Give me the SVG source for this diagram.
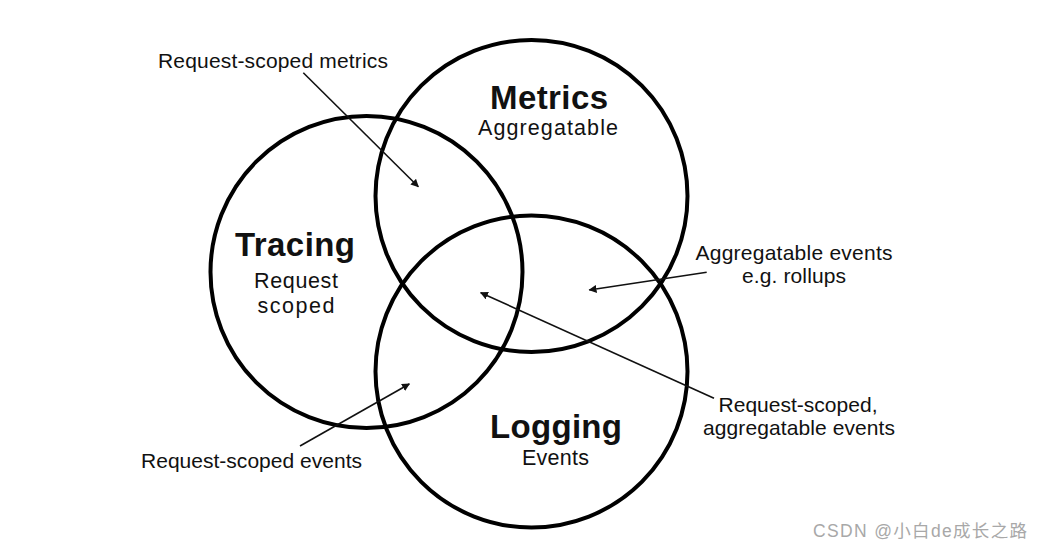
<svg xmlns="http://www.w3.org/2000/svg" width="1042" height="548" viewBox="0 0 1042 548">
<defs>
<style>
.c{fill:none;stroke:#000;stroke-width:4}
.t{font-family:"Liberation Sans",Arial,sans-serif;fill:#111}
.h{font-size:33px;font-weight:bold;text-anchor:middle}
.s{font-size:21.5px;text-anchor:middle}
.l{font-size:21px}
.a{stroke:#111;stroke-width:1.6;fill:none;marker-end:url(#ah)}
.w{font-family:"Liberation Sans",Arial,"Noto Sans CJK SC",sans-serif;font-size:17.5px;fill:#a8a8a8}
</style>
<marker id="ah" viewBox="0 0 10 10" refX="9" refY="5" markerWidth="8" markerHeight="8" markerUnits="userSpaceOnUse" orient="auto">
<path d="M0,0 L10,5 L0,10 z" fill="#111"/>
</marker>
</defs>
<rect width="1042" height="548" fill="#fff"/>
<g id="tracing">
<circle class="c" cx="366.5" cy="272" r="156"/>
<text class="t h" x="295" y="256" textLength="120" lengthAdjust="spacing">Tracing</text>
<text class="t s" x="296" y="288" textLength="84" lengthAdjust="spacing">Request</text>
<text class="t s" x="296" y="313" textLength="77" lengthAdjust="spacing">scoped</text>
</g>
<g id="metrics">
<circle class="c" cx="531.5" cy="196" r="156"/>
<text class="t h" x="549" y="109" textLength="118" lengthAdjust="spacing">Metrics</text>
<text class="t s" x="548" y="135" textLength="140" lengthAdjust="spacing">Aggregatable</text>
</g>
<g id="logging">
<circle class="c" cx="531.5" cy="371.5" r="156"/>
<text class="t h" x="556" y="438" textLength="132" lengthAdjust="spacing">Logging</text>
<text class="t s" x="555.5" y="465" textLength="67" lengthAdjust="spacing">Events</text>
</g>
<g id="labels">
<text class="t l" x="158" y="67.5" textLength="230" lengthAdjust="spacing">Request-scoped metrics</text>
<text class="t l" x="794" y="260" text-anchor="middle" textLength="197" lengthAdjust="spacing">Aggregatable events</text>
<text class="t l" x="794" y="283" text-anchor="middle" textLength="104" lengthAdjust="spacing">e.g. rollups</text>
<text class="t l" x="798" y="412" text-anchor="middle" textLength="159" lengthAdjust="spacing">Request-scoped,</text>
<text class="t l" x="799" y="435" text-anchor="middle" textLength="192" lengthAdjust="spacing">aggregatable events</text>
<text class="t l" x="141" y="468" textLength="221" lengthAdjust="spacing">Request-scoped events</text>
</g>
<g id="connectors">
<line class="a" x1="303.3" y1="72.7" x2="418.3" y2="186.7"/>
<line class="a" x1="706.7" y1="272.3" x2="589.3" y2="290"/>
<line class="a" x1="714" y1="398.3" x2="480.7" y2="292.7"/>
<line class="a" x1="300" y1="446" x2="409.3" y2="384"/>
</g>
<text class="w" x="813" y="537" textLength="214" lengthAdjust="spacing">CSDN @小白de成长之路</text>
</svg>
